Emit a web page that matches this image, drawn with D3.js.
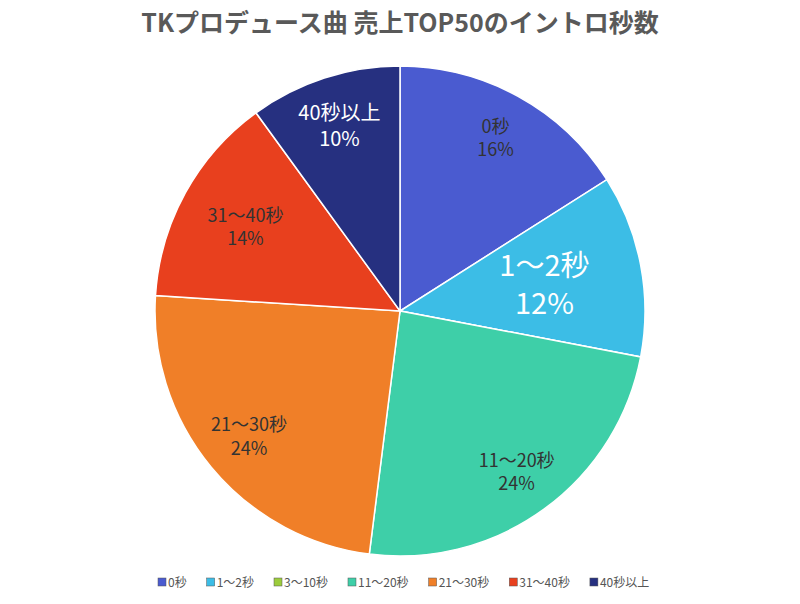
<!DOCTYPE html><html><head><meta charset="utf-8">
<script src="https://cdn.jsdelivr.net/npm/d3@7"></script>
<style>body{margin:0;background:#fff;font-family:"Noto Sans CJK JP","Noto Sans",sans-serif}</style></head><body>
<svg id="c" width="800" height="604"></svg>
<script>
const categories=["0秒","1～2秒","3～10秒","11～20秒","21～30秒","31～40秒","40秒以上"];
const values=[16,12,0,24,24,14,10];
const colors=["#4a5bd0","#3cbde6","#9ccc3c","#3ecfa8","#f07f28","#e8401e","#263080"];
const labelR=[0.81,0.6,0.8,0.81,0.8,0.72,0.8];
const svg=d3.select("#c");
svg.append("text").attr("x",400).attr("y",32).attr("text-anchor","middle").attr("font-size",25).attr("font-weight","bold").attr("fill","#595959").text("TKプロデュース曲 売上TOP50のイントロ秒数");
const cx=400,cy=311,r=245;
const g=svg.append("g").attr("transform",`translate(${cx},${cy})`);
const pie=d3.pie().sort(null).value(d=>d)(values);
const arc=d3.arc().innerRadius(0).outerRadius(r);
g.selectAll("path").data(pie).join("path").attr("d",arc).attr("fill",(d,i)=>colors[i]).attr("stroke","#fff").attr("stroke-width",1.5);
pie.forEach((d,i)=>{if(!values[i])return;
 const a=(d.startAngle+d.endAngle)/2, rr=r*labelR[i];
 const x=Math.sin(a)*rr,y=-Math.cos(a)*rr;
 const big=i===1, fs=big?29:(i===6?20:18);
 const t=g.append("text").attr("text-anchor","middle").attr("font-size",fs).attr("fill",(i===1||i===6)?"#fff":"#333");
 t.append("tspan").attr("x",x).attr("y",y-fs*0.25).text(categories[i]);
 t.append("tspan").attr("x",x).attr("y",y+fs*1.05).text(values[i]+"%");
});
const lg=svg.append("g");
let x=158;
categories.forEach((c,i)=>{
 lg.append("rect").attr("x",x).attr("y",578).attr("width",8).attr("height",8).attr("fill",colors[i]).attr("stroke","#555").attr("stroke-width",0.5);
 const t=lg.append("text").attr("x",x+10).attr("y",586.5).attr("font-size",12).attr("fill","#555").text(c);
 x+=10+t.node().getComputedTextLength()+20;
});
</script></body></html>
